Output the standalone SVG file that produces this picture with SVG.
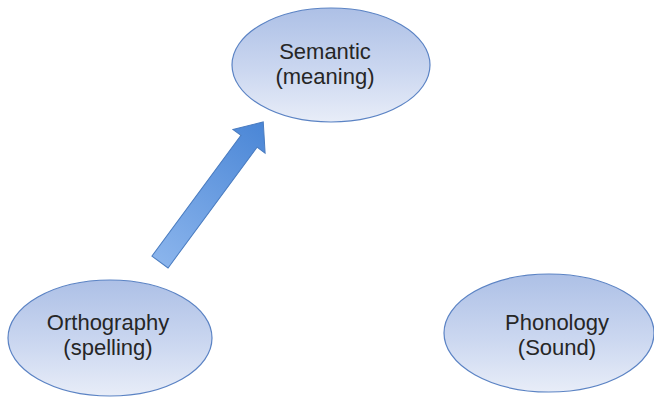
<svg xmlns="http://www.w3.org/2000/svg" width="654" height="398" viewBox="0 0 654 398">
<defs>
<linearGradient id="eg" x1="0" y1="0" x2="0" y2="1">
<stop offset="0" stop-color="#adc0e6"/>
<stop offset="0.55" stop-color="#cbd7f0"/>
<stop offset="1" stop-color="#e8edf8"/>
</linearGradient>
<linearGradient id="ag" x1="0" y1="0" x2="1" y2="0">
<stop offset="0" stop-color="#8ab4ec"/>
<stop offset="1" stop-color="#4a86d6"/>
</linearGradient>
<style>
.node ellipse{fill:url(#eg);stroke:#5b83c4;stroke-width:1.2}
.node text{font-family:"Liberation Sans",Arial,sans-serif;font-size:22px;fill:#262626;text-anchor:middle}
.arrow{fill:url(#ag);stroke:#4a7cc0;stroke-width:1}
</style>
</defs>
<rect width="654" height="398" fill="#ffffff"/>
<g id="connectors">
<polygon class="arrow" transform="translate(160,262) rotate(-53.6)" points="0,-10 150,-10 150,-20 174,0 150,20 150,10 0,10"/>
</g>
<g id="semantic" class="node">
<ellipse cx="331" cy="65" rx="99" ry="57"/>
<text x="325" y="59">Semantic</text>
<text x="325" y="84">(meaning)</text>
</g>
<g id="orthography" class="node">
<ellipse cx="110" cy="338" rx="102" ry="58"/>
<text x="108" y="330">Orthography</text>
<text x="108" y="355">(spelling)</text>
</g>
<g id="phonology" class="node">
<ellipse cx="549" cy="333" rx="105" ry="59"/>
<text x="557" y="330">Phonology</text>
<text x="557" y="355">(Sound)</text>
</g>
</svg>
